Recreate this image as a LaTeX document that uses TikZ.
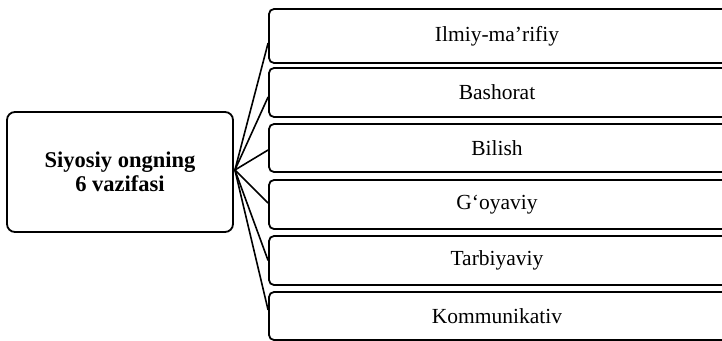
\documentclass[tikz,border=0pt]{standalone}
\usepackage{fontspec}
\setmainfont{Liberation Serif}
\newcommand{\shiftleft}[1]{\hspace*{-14pt}#1}
\begin{document}
\begin{tikzpicture}[x=1pt,y=-1pt,
  box/.style={draw, line width=1.8pt, rounded corners=5pt, inner sep=0pt},
  itembox/.style={box, minimum width=470pt, font=\fontsize{21.5}{24}\selectfont},
  mainbox/.style={box, rounded corners=8pt, minimum width=226pt, minimum height=120pt,
    align=center, font=\fontsize{22.5}{24}\selectfont\bfseries},
  link/.style={line width=1.6pt}]
\useasboundingbox (0,0) rectangle (722,340);
\clip (0,0) rectangle (722,340);
\node[mainbox] (L) at (120,172) {Siyosiy ongning\\6 vazifasi};
\node[itembox, minimum height=54pt] (b1) at (504,36) {\shiftleft{Ilmiy-ma\textquoteright rifiy}};
\node[itembox, minimum height=49pt] (b2) at (504,92.5) {\shiftleft{Bashorat}};
\node[itembox, minimum height=48pt] (b3) at (504,148) {\shiftleft{Bilish}};
\node[itembox, minimum height=49pt] (b4) at (504,204.5) {\shiftleft{G\textquoteleft oyaviy}};
\node[itembox, minimum height=49pt] (b5) at (504,260.5) {\shiftleft{Tarbiyaviy}};
\node[itembox, minimum height=48pt] (b6) at (504,316) {\shiftleft{Kommunikativ}};
\coordinate (hub) at ([xshift=1pt,yshift=2pt]L.east);
\draw[link] (hub) -- ([yshift=-7pt]b1.west);
\draw[link] (hub) -- ([yshift=-4.5pt]b2.west);
\draw[link] (hub) -- ([yshift=-2pt]b3.west);
\draw[link] (hub) -- ([yshift=1.5pt]b4.west);
\draw[link] (hub) -- (b5.west);
\draw[link] (hub) -- ([yshift=6pt]b6.west);
\end{tikzpicture}
\end{document}
